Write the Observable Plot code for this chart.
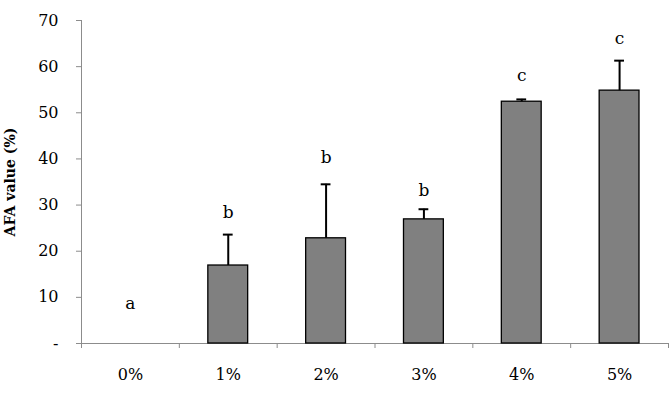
<!DOCTYPE html>
<html>
<head>
<meta charset="utf-8">
<script src="https://cdn.jsdelivr.net/npm/d3@7"></script>
<script src="https://cdn.jsdelivr.net/npm/@observablehq/plot@0.6"></script>
<style>
  html, body { margin: 0; padding: 0; background: #fff; }
  #chart svg, #chart svg text { font-family: "DejaVu Serif", "Liberation Serif", serif !important; }
</style>
</head>
<body>
<div id="chart"></div>
<script>
const categories = ["0%", "1%", "2%", "3%", "4%", "5%"];
const values = [0, 16.9, 22.8, 26.9, 52.4, 54.8];
const errors = [0, 6.7, 11.7, 2.2, 0.5, 6.5];
const letters = ["a", "b", "b", "b", "c", "c"];
const letterY = [8.7, 28.4, 40.3, 33.2, 58.1, 66.1];
const yTicks = [0, 10, 20, 30, 40, 50, 60, 70];

const data = categories.map((c, i) => ({
  cat: c, i, value: values[i], err: errors[i], top: values[i] + errors[i],
  letter: letters[i], ly: letterY[i]
}));
const withErr = data.filter(d => d.err > 0);
const gray = "#8c8c8c";
const serif = "DejaVu Serif";

const chart = Plot.plot({
  width: 670,
  height: 400,
  marginLeft: 81,
  marginRight: 2,
  marginTop: 20,
  marginBottom: 57,
  style: { fontFamily: serif, fontSize: "16px", background: "#fff", color: "#000" },
  x: { type: "linear", domain: [0, categories.length] },
  y: { domain: [0, 70] },
  marks: [
    Plot.ruleX([0], { stroke: gray, strokeWidth: 1 }),
    Plot.ruleY([0], { stroke: gray, strokeWidth: 1 }),
    Plot.axisX(d3.range(categories.length + 1), { tickSize: 5, tickFormat: () => "", stroke: gray, label: null }),
    Plot.axisY(yTicks, {
      tickSize: 5, tickPadding: 18, stroke: gray, fill: "#000", fontSize: 16, fontFamily: serif,
      tickFormat: d => d === 0 ? "-" : String(d), label: null
    }),
    Plot.text(data, { x: d => d.i + 0.5, y: 0, text: "cat", dy: 31, fontSize: 16, fontFamily: serif, fill: "#000" }),
    Plot.rectY(data, {
      x1: d => d.i, x2: d => d.i + 1, y: "value",
      insetLeft: 29, insetRight: 29,
      fill: "#808080", stroke: "#000", strokeWidth: 1.3
    }),
    Plot.ruleX(withErr, { x: d => d.i + 0.5, y1: "value", y2: "top", stroke: "#000", strokeWidth: 2 }),
    Plot.ruleY(withErr, { y: "top", x1: d => d.i + 0.45, x2: d => d.i + 0.55, stroke: "#000", strokeWidth: 2 }),
    Plot.text(data, { x: d => d.i + 0.5, y: "ly", text: "letter", fontSize: 17, fontFamily: serif, fill: "#000" }),
    Plot.text(["AFA value (%)"], {
      frameAnchor: "left", textAnchor: "middle", dx: -71, rotate: -90,
      fontSize: 14, fontWeight: "bold", fontFamily: serif, fill: "#000"
    })
  ]
});
document.getElementById("chart").appendChild(chart);
</script>
</body>
</html>
